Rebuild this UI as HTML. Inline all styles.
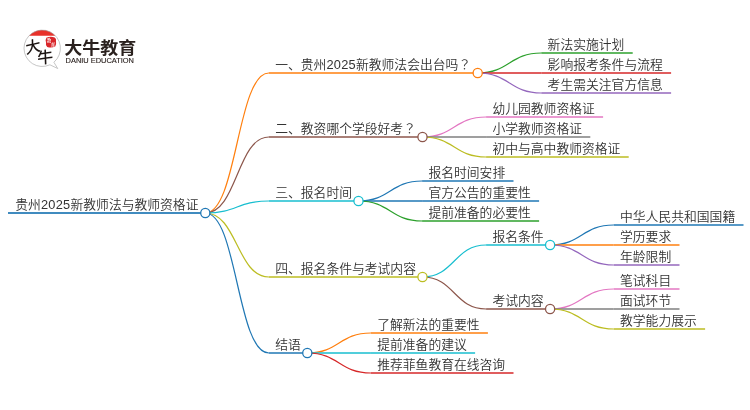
<!DOCTYPE html>
<html lang="zh-CN">
<head>
<meta charset="utf-8">
<title>贵州2025新教师法与教师资格证</title>
<style>
html,body{margin:0;padding:0;background:#fff;}
body{width:750px;height:410px;overflow:hidden;}
svg{display:block;will-change:transform;font-family:"Liberation Sans","Noto Sans CJK SC",sans-serif;}
.links path,.lines path{fill:none;}
.nodes circle{fill:#fff;stroke-width:1.3;}
.labels .d{letter-spacing:0.28px;}
.labels .q{font-family:"Noto Sans CJK JP",sans-serif;}
.labels text{font-size:12.8px;fill:#333;font-weight:350;}
</style>
</head>
<body>
<svg width="750" height="410" viewBox="0 0 750 410">
<rect width="750" height="410" fill="#fff"/>

<g id="logo">
  <path d="M29.07,35.7 A18.2,18.2 0 0 1 55.33,35.7 Z" fill="#e8312a"/>
  <path d="M53.9,62.24 L57.7,68.5 L49.89,64.79 A18.2,18.2 0 1 1 53.9,62.24 Z" fill="none" stroke="#a0a0a0" stroke-width="0.6" stroke-linejoin="round"/>
  <path d="M46.6,37.6 Q50.6,35.8 54.6,37.4 Q56.6,38.6 56,41.4 Q56.6,44.6 55.2,46.6 Q51.4,48.4 47.2,47 Q45.4,45.4 46,42.6 Q45.2,39.4 46.6,37.6 Z" fill="#d9262b"/>
  <text x="46.8" y="41.8" font-size="4.4" fill="#fff" font-family="'Liberation Serif','Noto Serif CJK SC',serif" font-weight="700">教</text>
  <text x="50.8" y="46.2" font-size="4.4" fill="#fff" font-family="'Liberation Serif','Noto Serif CJK SC',serif" font-weight="700">育</text>
  <text font-size="15.4" fill="#1a1311" font-weight="500" transform="translate(26 54) rotate(-13) skewX(-8)">大</text>
  <text font-size="16" fill="#1a1311" font-weight="500" transform="translate(37.4 64.2) rotate(-8) skewX(-6)">牛</text>
  <text x="64.2" y="53.8" font-size="16.6" fill="#2a211e" font-weight="700" textLength="72" lengthAdjust="spacingAndGlyphs">大牛教育</text>
  <text x="65.6" y="63" font-size="6.6" fill="#2a211e" stroke="#2a211e" stroke-width="0.12" textLength="68.4" lengthAdjust="spacingAndGlyphs">DANIU EDUCATION</text>
</g>

<g class="links">
<path d="M205.3,213.0C237.1,213.0 237.1,73.0 268.9,73.0" stroke="#ff7f0e" stroke-width="1.2"/>
<path d="M477.7,73.0C509.5,73.0 509.5,53.0 541.3,53.0" stroke="#2ca02c" stroke-width="1.15"/>
<path d="M477.7,73.0C509.5,73.0 509.5,73.0 541.3,73.0" stroke="#d62728" stroke-width="1.35"/>
<path d="M477.7,73.0C509.5,73.0 509.5,93.0 541.3,93.0" stroke="#9467bd" stroke-width="1.15"/>
<path d="M205.3,213.0C237.1,213.0 237.1,137.0 268.9,137.0" stroke="#8c564b" stroke-width="1.2"/>
<path d="M422.5,137.0C454.3,137.0 454.3,117.0 486.1,117.0" stroke="#e377c2" stroke-width="1.15"/>
<path d="M422.5,137.0C454.3,137.0 454.3,137.0 486.1,137.0" stroke="#7f7f7f" stroke-width="1.35"/>
<path d="M422.5,137.0C454.3,137.0 454.3,157.0 486.1,157.0" stroke="#bcbd22" stroke-width="1.15"/>
<path d="M205.3,213.0C237.1,213.0 237.1,201.0 268.9,201.0" stroke="#17becf" stroke-width="1.2"/>
<path d="M358.5,201.0C390.3,201.0 390.3,181.0 422.1,181.0" stroke="#1f77b4" stroke-width="1.15"/>
<path d="M358.5,201.0C390.3,201.0 390.3,201.0 422.1,201.0" stroke="#1f77b4" stroke-width="1.35"/>
<path d="M358.5,201.0C390.3,201.0 390.3,221.0 422.1,221.0" stroke="#2ca02c" stroke-width="1.15"/>
<path d="M205.3,213.0C237.1,213.0 237.1,277.0 268.9,277.0" stroke="#bcbd22" stroke-width="1.2"/>
<path d="M422.5,277.0C454.3,277.0 454.3,245.0 486.1,245.0" stroke="#17becf" stroke-width="1.15"/>
<path d="M550.1,245.0C581.9,245.0 581.9,225.0 613.7,225.0" stroke="#1f77b4" stroke-width="1.15"/>
<path d="M550.1,245.0C581.9,245.0 581.9,245.0 613.7,245.0" stroke="#ff7f0e" stroke-width="1.35"/>
<path d="M550.1,245.0C581.9,245.0 581.9,265.0 613.7,265.0" stroke="#9467bd" stroke-width="1.15"/>
<path d="M422.5,277.0C454.3,277.0 454.3,309.0 486.1,309.0" stroke="#8c564b" stroke-width="1.15"/>
<path d="M550.1,309.0C581.9,309.0 581.9,289.0 613.7,289.0" stroke="#e377c2" stroke-width="1.15"/>
<path d="M550.1,309.0C581.9,309.0 581.9,309.0 613.7,309.0" stroke="#7f7f7f" stroke-width="1.35"/>
<path d="M550.1,309.0C581.9,309.0 581.9,329.0 613.7,329.0" stroke="#bcbd22" stroke-width="1.15"/>
<path d="M205.3,213.0C237.1,213.0 237.1,353.0 268.9,353.0" stroke="#1f77b4" stroke-width="1.2"/>
<path d="M307.3,353.0C339.1,353.0 339.1,333.0 370.9,333.0" stroke="#ff7f0e" stroke-width="1.15"/>
<path d="M307.3,353.0C339.1,353.0 339.1,353.0 370.9,353.0" stroke="#17becf" stroke-width="1.35"/>
<path d="M307.3,353.0C339.1,353.0 339.1,373.0 370.9,373.0" stroke="#d62728" stroke-width="1.15"/>
</g>
<g class="lines">
<path d="M8.0,213.0H205.3" stroke="#1f77b4" stroke-width="2" stroke-opacity="0.85"/>
<path d="M268.9,73.0H477.7" stroke="#ff7f0e" stroke-width="1.4"/>
<path d="M541.3,53.0H632.7" stroke="#2ca02c" stroke-width="1.35"/>
<path d="M541.3,73.0H671.1" stroke="#d62728" stroke-width="1.35"/>
<path d="M541.3,93.0H671.1" stroke="#9467bd" stroke-width="1.35"/>
<path d="M268.9,137.0H422.5" stroke="#8c564b" stroke-width="1.4"/>
<path d="M486.1,117.0H603.1" stroke="#e377c2" stroke-width="1.35"/>
<path d="M486.1,137.0H590.3" stroke="#7f7f7f" stroke-width="1.35"/>
<path d="M486.1,157.0H628.7" stroke="#bcbd22" stroke-width="1.35"/>
<path d="M268.9,201.0H358.5" stroke="#17becf" stroke-width="1.4"/>
<path d="M422.1,181.0H513.5" stroke="#1f77b4" stroke-width="1.35"/>
<path d="M422.1,201.0H539.1" stroke="#1f77b4" stroke-width="1.35"/>
<path d="M422.1,221.0H539.1" stroke="#2ca02c" stroke-width="1.35"/>
<path d="M268.9,277.0H422.5" stroke="#bcbd22" stroke-width="1.4"/>
<path d="M486.1,245.0H550.1" stroke="#17becf" stroke-width="1.35"/>
<path d="M613.7,225.0H743.5" stroke="#1f77b4" stroke-width="1.35"/>
<path d="M613.7,245.0H679.5" stroke="#ff7f0e" stroke-width="1.35"/>
<path d="M613.7,265.0H679.5" stroke="#9467bd" stroke-width="1.35"/>
<path d="M486.1,309.0H550.1" stroke="#8c564b" stroke-width="1.35"/>
<path d="M613.7,289.0H679.5" stroke="#e377c2" stroke-width="1.35"/>
<path d="M613.7,309.0H679.5" stroke="#7f7f7f" stroke-width="1.35"/>
<path d="M613.7,329.0H705.1" stroke="#bcbd22" stroke-width="1.35"/>
<path d="M268.9,353.0H307.3" stroke="#1f77b4" stroke-width="1.4"/>
<path d="M370.9,333.0H487.9" stroke="#ff7f0e" stroke-width="1.35"/>
<path d="M370.9,353.0H475.1" stroke="#17becf" stroke-width="1.35"/>
<path d="M370.9,373.0H513.5" stroke="#d62728" stroke-width="1.35"/>
</g>
<g class="nodes">
<circle cx="205.3" cy="213.0" r="4.6" stroke="#1f77b4"/>
<circle cx="477.7" cy="73.0" r="4.6" stroke="#ff7f0e"/>
<circle cx="422.5" cy="137.0" r="4.6" stroke="#8c564b"/>
<circle cx="358.5" cy="201.0" r="4.6" stroke="#17becf"/>
<circle cx="422.5" cy="277.0" r="4.6" stroke="#bcbd22"/>
<circle cx="550.1" cy="245.0" r="4.6" stroke="#17becf"/>
<circle cx="550.1" cy="309.0" r="4.6" stroke="#8c564b"/>
<circle cx="307.3" cy="353.0" r="4.6" stroke="#1f77b4"/>
</g>
<g class="labels">
<text x="15.3" y="209.3">贵州<tspan class="d">2025</tspan>新教师法与教师资格证</text>
<text x="275.2" y="69.3">一、贵州<tspan class="d">2025</tspan>新教师法会出台吗<tspan class="q" lang="ja">？</tspan></text>
<text x="547.6" y="49.3">新法实施计划</text>
<text x="547.6" y="69.3">影响报考条件与流程</text>
<text x="547.6" y="89.3">考生需关注官方信息</text>
<text x="275.2" y="133.3">二、教资哪个学段好考<tspan class="q" lang="ja">？</tspan></text>
<text x="492.4" y="113.3">幼儿园教师资格证</text>
<text x="492.4" y="133.3">小学教师资格证</text>
<text x="492.4" y="153.3">初中与高中教师资格证</text>
<text x="275.2" y="197.3">三、报名时间</text>
<text x="428.4" y="177.3">报名时间安排</text>
<text x="428.4" y="197.3">官方公告的重要性</text>
<text x="428.4" y="217.3">提前准备的必要性</text>
<text x="275.2" y="273.3">四、报名条件与考试内容</text>
<text x="492.4" y="241.3">报名条件</text>
<text x="620.0" y="221.3">中华人民共和国国籍</text>
<text x="620.0" y="241.3">学历要求</text>
<text x="620.0" y="261.3">年龄限制</text>
<text x="492.4" y="305.3">考试内容</text>
<text x="620.0" y="285.3">笔试科目</text>
<text x="620.0" y="305.3">面试环节</text>
<text x="620.0" y="325.3">教学能力展示</text>
<text x="275.2" y="349.3">结语</text>
<text x="377.2" y="329.3">了解新法的重要性</text>
<text x="377.2" y="349.3">提前准备的建议</text>
<text x="377.2" y="369.3">推荐菲鱼教育在线咨询</text>
</g>
</svg>
</body>
</html>
